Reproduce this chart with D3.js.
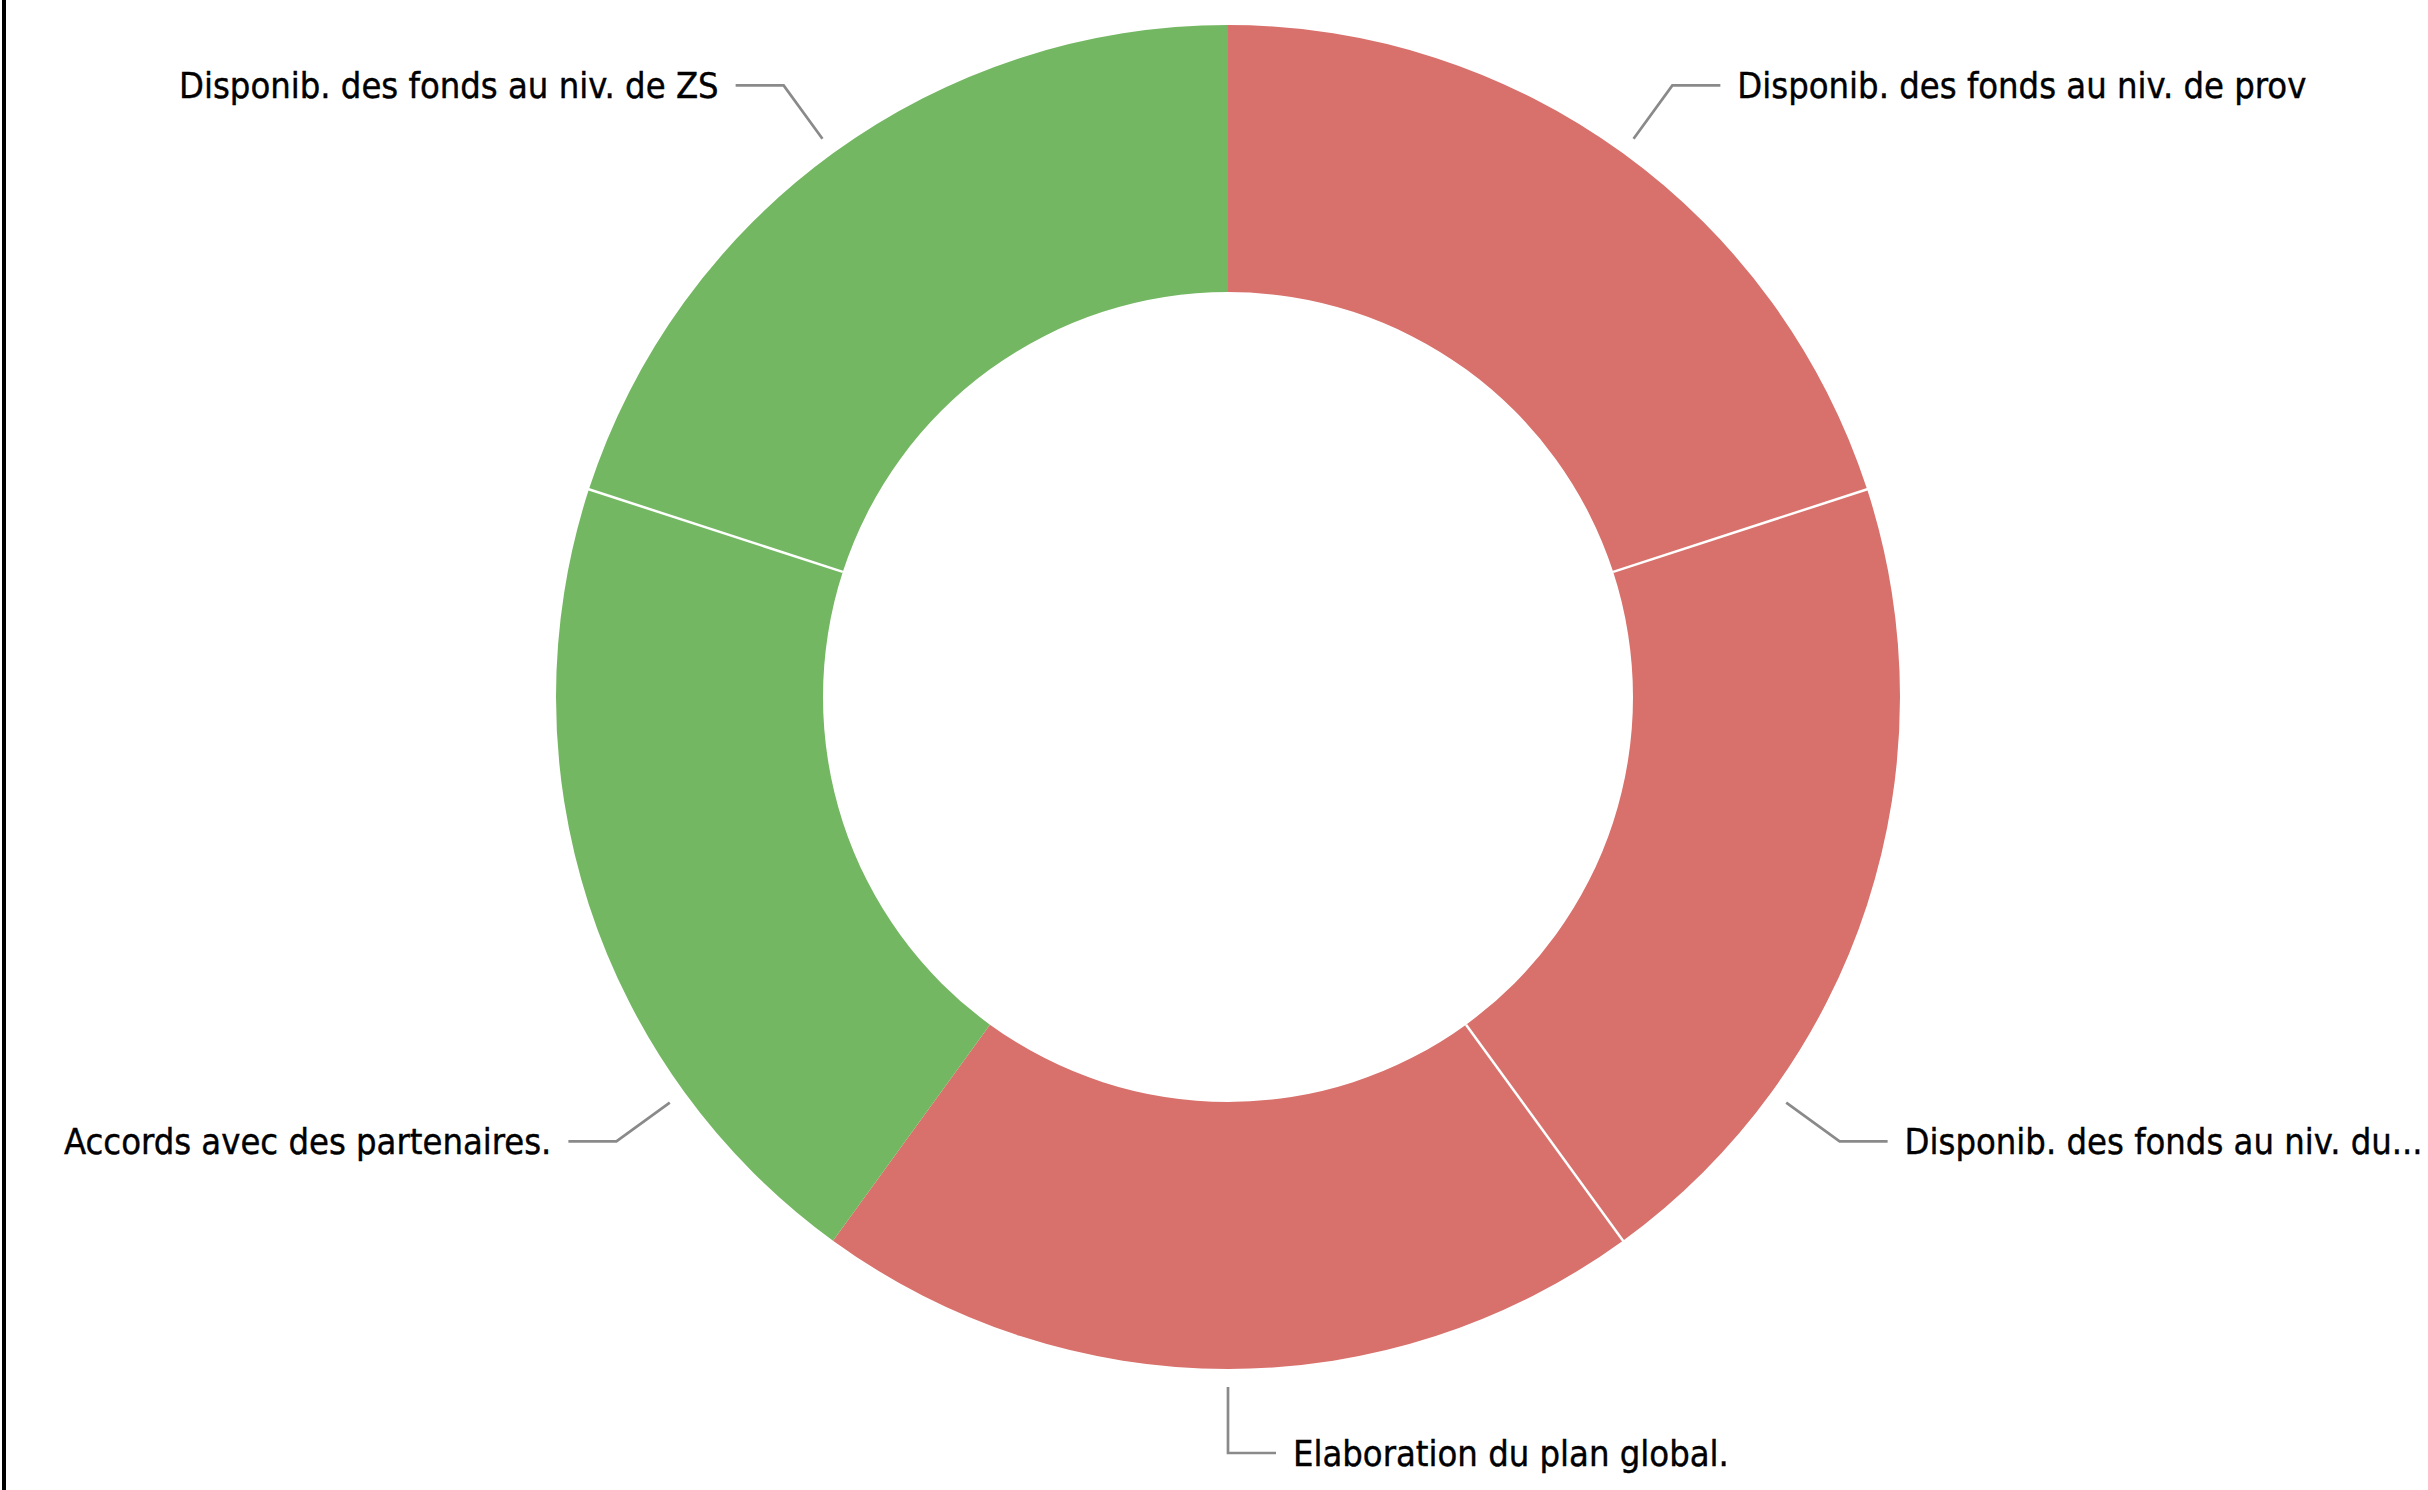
<!DOCTYPE html>
<html>
<head>
<meta charset="utf-8">
<script src="https://cdn.jsdelivr.net/npm/d3@7"></script>
<style>
  body { margin: 0; background: #fff; }
  .chart text { font-family: "DejaVu Sans Condensed", "DejaVu Sans", sans-serif; fill: #000; stroke: #000; stroke-width: 0.4px; }
</style>
</head>
<body>
<div class="chart"></div>
<script>
// slices, clockwise from 12 o'clock
const labels = [
  "Disponib. des fonds au niv. de prov",
  "Disponib. des fonds au niv. du...",
  "Elaboration du plan global.",
  "Accords avec des partenaires.",
  "Disponib. des fonds au niv. de ZS"
];
const values = [1, 1, 1, 1, 1];
const status = ["Non", "Non", "Non", "Oui", "Oui"];

const statusNames = ["Non", "Oui"];
const statusColors = ["#d8706b", "#74b762"];

// labels pushed a bit away from the mid angle (degrees) so they sit lower
const labelNudge = [0, 18, 0, -18, 0];

const width = 2428, height = 1490;
const cx = 1228, cy = 697;
const outerR = 672, innerR = 405;

const data = labels.map((l, i) => ({label: l, value: values[i], status: status[i], nudge: labelNudge[i]}));

const color = d3.scaleOrdinal().domain(statusNames).range(statusColors);

const svg = d3.select(".chart").append("svg")
    .attr("width", width)
    .attr("height", height);

// thin black frame line on the left
svg.append("rect")
    .attr("x", 2).attr("y", 0)
    .attr("width", 4).attr("height", height)
    .attr("fill", "#000");

const g = svg.append("g")
    .attr("transform", `translate(${cx},${cy})`);

const pie = d3.pie().sort(null).value(d => d.value);
const arcs = pie(data);

const arc = d3.arc().innerRadius(innerR).outerRadius(outerR);

g.selectAll(".slice")
    .data(arcs)
    .enter()
    .append("path")
    .attr("class", "slice")
    .attr("d", arc)
    .attr("fill", d => color(d.data.status));

// white separators only between neighbours of the same colour
const seps = arcs.filter((d, i) => {
    const next = arcs[(i + 1) % arcs.length];
    return d.data.status === next.data.status;
});
g.selectAll(".sep")
    .data(seps)
    .enter()
    .append("line")
    .attr("class", "sep")
    .attr("x1", d => innerR * Math.sin(d.endAngle))
    .attr("y1", d => -innerR * Math.cos(d.endAngle))
    .attr("x2", d => (outerR + 1) * Math.sin(d.endAngle))
    .attr("y2", d => -(outerR + 1) * Math.cos(d.endAngle))
    .attr("stroke", "#fff")
    .attr("stroke-width", 2.5);

// leader lines + labels
const r1 = 690, r2 = 756, hLen = 48, gap = 17;
const pts = arcs.map(d => {
    const a = (d.startAngle + d.endAngle) / 2 + d.data.nudge * Math.PI / 180;
    const right = Math.sin(a) > -1e-6;
    const p1 = [r1 * Math.sin(a), -r1 * Math.cos(a)];
    const p2 = [r2 * Math.sin(a), -r2 * Math.cos(a)];
    const p3 = [p2[0] + (right ? hLen : -hLen), p2[1]];
    return {d, right, p1, p2, p3};
});

g.selectAll(".leader")
    .data(pts)
    .enter()
    .append("polyline")
    .attr("class", "leader")
    .attr("points", p => [p.p1, p.p2, p.p3].map(q => q.join(",")).join(" "))
    .attr("fill", "none")
    .attr("stroke", "#8a8a8a")
    .attr("stroke-width", 2.7);

g.selectAll(".label")
    .data(pts)
    .enter()
    .append("text")
    .attr("class", "label")
    .attr("x", p => p.p3[0] + (p.right ? gap : -gap))
    .attr("y", p => p.p3[1])
    .attr("dy", "0.35em")
    .attr("text-anchor", p => p.right ? "start" : "end")
    .attr("font-size", 36)
    .text(p => p.d.data.label);
</script>
</body>
</html>
